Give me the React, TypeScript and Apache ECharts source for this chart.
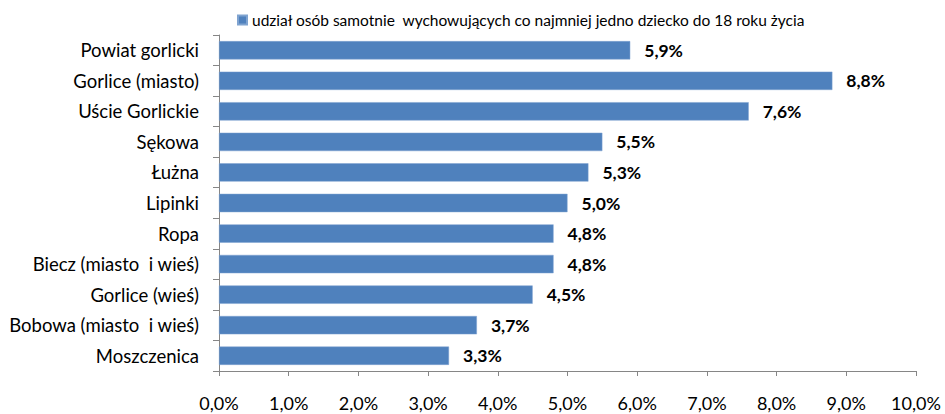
import React, { useEffect, useRef } from "react";
import * as echarts from "echarts";

const categories = [
  "Powiat gorlicki",
  "Gorlice (miasto)",
  "Uście Gorlickie",
  "Sękowa",
  "Łużna",
  "Lipinki",
  "Ropa",
  "Biecz (miasto  i wieś)",
  "Gorlice (wieś)",
  "Bobowa (miasto  i wieś)",
  "Moszczenica",
];
const values = [5.9, 8.8, 7.6, 5.5, 5.3, 5.0, 4.8, 4.8, 4.5, 3.7, 3.3];
const seriesName = "udział osób samotnie  wychowujących co najmniej jedno dziecko do 18 roku życia";

const fmt = (v: number) => v.toFixed(1).replace(".", ",") + "%";

export default function App() {
  const ref = useRef<HTMLDivElement>(null);
  useEffect(() => {
    const chart = echarts.init(ref.current!, null, { renderer: "svg" });
    chart.setOption({
      animation: false,
      textStyle: { fontFamily: "Lato" },
      legend: {
        top: 7,
        left: 232,
        itemWidth: 9,
        itemHeight: 9,
        itemGap: 4,
        icon: "rect",
        textStyle: { fontSize: 15.5, color: "#000", fontFamily: "Lato" },
        data: [seriesName],
      },
      grid: { left: 219, right: 29, top: 35, bottom: 43, containLabel: false },
      xAxis: {
        type: "value",
        min: 0,
        max: 10,
        interval: 1,
        axisLine: { show: true, lineStyle: { color: "#868686" } },
        axisTick: { show: true, length: 5, lineStyle: { color: "#868686" } },
        splitLine: { show: false },
        axisLabel: {
          formatter: (v: number) => fmt(v),
          fontSize: 18,
          color: "#000",
          margin: 23,
          fontFamily: "Lato",
        },
      },
      yAxis: {
        type: "category",
        inverse: true,
        data: categories,
        axisLine: { show: true, lineStyle: { color: "#868686" } },
        axisTick: { show: true, length: 6, lineStyle: { color: "#868686" } },
        axisLabel: { fontSize: 18.5, color: "#000", margin: 20, fontFamily: "Lato" },
      },
      series: [
        {
          name: seriesName,
          type: "bar",
          data: values,
          barCategoryGap: "40%",
          itemStyle: { color: "#4F81BD", borderColor: "#7FA3D0", borderWidth: 0.5 },
          label: {
            show: true,
            position: "right",
            distance: 14,
            formatter: (p: any) => fmt(p.value),
            fontSize: 17.5,
            fontWeight: "bold",
            color: "#000",
            fontFamily: "Lato",
          },
        },
      ],
    });
    return () => chart.dispose();
  }, []);
  return <div ref={ref} style={{ width: 945, height: 414, position: "absolute", left: 0, top: 0 }} />;
}
